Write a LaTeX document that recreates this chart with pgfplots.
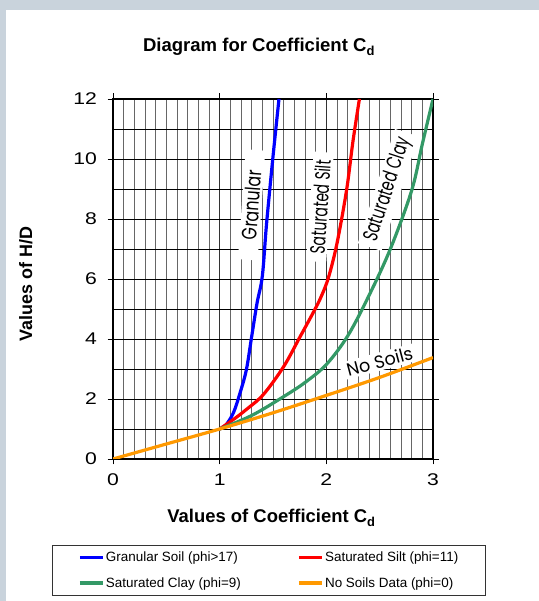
\documentclass[border=0pt]{standalone}
\usepackage{fontspec}
\setmainfont{Liberation Sans}
\newfontfamily\lblfont{Poppins}
\usepackage{pgfplots}
\pgfplotsset{compat=1.18}
\definecolor{bggray}{RGB}{201,211,220}
\definecolor{cblue}{RGB}{0,0,255}
\definecolor{cred}{RGB}{255,0,0}
\definecolor{cgreen}{RGB}{51,153,102}
\definecolor{corange}{RGB}{255,153,0}
\begin{document}
\begin{tikzpicture}[x=1bp,y=1bp]
\fill[bggray] (0,0) rectangle (539,601);
\fill[white] (6,0) rectangle (539,591);
\node[anchor=base,font=\fontsize{18.6}{21}\selectfont\bfseries] at (259,549) {Diagram for Coefficient C\textsubscript{d}};
\node[anchor=base,font=\fontsize{18.5}{21}\selectfont\bfseries] at (271.5,78) {Values of Coefficient C\textsubscript{d}};
\node[anchor=base,rotate=90,font=\fontsize{18}{21}\selectfont\bfseries] at (32,317) {Values of H/D};
\begin{axis}[
  at={(113bp,142bp)}, anchor=south west,
  scale only axis, width=320bp, height=360bp,
  xmin=0, xmax=3, ymin=0, ymax=12,
  xtick={0,1,2,3}, ytick={0,2,...,12},
  minor x tick num=9, minor y tick num=1,
  grid=both,
  major x grid style={black!80, line width=0.9bp},
  minor x grid style={black!60, line width=0.9bp},
  major y grid style={black, line width=0.9bp},
  minor y grid style={black, line width=0.9bp},
  axis line style={black, line width=1.8bp},
  tick align=outside, major tick length=5.5bp, minor tick length=0bp,
  major tick style={black, line width=0.9bp},
  /pgf/number format/assume math mode=true,
  tick label style={font=\fontsize{17}{20}\selectfont},
  xticklabel={\scalebox{1.25}[1]{\pgfmathprintnumber{\tick}}},
  yticklabel={\scalebox{1.25}[1]{\pgfmathprintnumber{\tick}}},
  yticklabel style={xshift=-7bp},
  xticklabel style={yshift=-6bp},
  legend columns=2,
  legend cell align=left,
  legend image code/.code={\draw[#1] (0bp,0bp) -- (23bp,0bp);},
  legend style={at={(0.4875,-0.238)}, anchor=north, draw=black!80, line width=0.8bp,
    font=\fontsize{13.5}{16}\selectfont, inner xsep=26bp, inner ysep=5.5bp,
    row sep=11bp, nodes={inner sep=1.5bp},
    /tikz/every even column/.append style={column sep=55bp}},
]
\node[rotate=86, fill=white, inner xsep=20bp, inner ysep=2bp, font=\lblfont\fontsize{21}{24}\selectfont] at (axis cs:1.30,8.47) {\scalebox{0.76}[1]{Granular}};
\node[rotate=86, fill=white, inner xsep=8bp, inner ysep=2bp, font=\lblfont\fontsize{21}{24}\selectfont] at (axis cs:1.94,8.4) {\scalebox{0.67}[1]{Saturated Silt}};
\node[rotate=72, fill=white, inner xsep=6bp, inner ysep=2bp, font=\lblfont\fontsize{21}{24}\selectfont] at (axis cs:2.58,8.97) {\scalebox{0.69}[1]{Saturated Clay}};
\node[rotate=15, fill=white, inner xsep=6bp, inner ysep=2bp, font=\lblfont\fontsize{18}{21}\selectfont] at (axis cs:2.50,3.25) {\scalebox{0.98}[1]{No Soils}};
\addplot[cblue, line width=3.2bp, smooth, tension=0.55] coordinates {
 (1,1) (1.06,1.14) (1.13,1.55) (1.19,2.19) (1.25,2.97) (1.3,4.08) (1.35,5.19) (1.4,6.1) (1.44,7.86) (1.5,10.08) (1.556,12)};
\addlegendentry{Granular Soil (phi>17)}
\addplot[cred, line width=3.2bp, smooth, tension=0.55] coordinates {
 (1,1) (1.13,1.32) (1.25,1.65) (1.41,2.15) (1.6,3.08) (1.75,4.05) (1.88,4.9) (1.95,5.4) (2.02,6.05) (2.1,7.19) (2.19,8.97) (2.25,10.6) (2.31,12)};
\addlegendentry{Saturated Silt (phi=11)}
\addplot[cgreen, line width=3.2bp, smooth, tension=0.55] coordinates {
 (1,1) (1.3,1.45) (1.6,2.08) (1.8,2.55) (2,3.15) (2.2,4.1) (2.4,5.45) (2.6,7.0) (2.8,8.95) (2.9,10.5) (3,12)};
\addlegendentry{Saturated Clay (phi=9)}
\addplot[corange, line width=3.2bp, smooth, tension=0.55] coordinates {
 (0,0) (0.5,0.5) (1,1) (1.5,1.54) (2,2.12) (2.5,2.72) (3,3.38)};
\addlegendentry{No Soils Data (phi=0)}
\end{axis}
\end{tikzpicture}
\end{document}
